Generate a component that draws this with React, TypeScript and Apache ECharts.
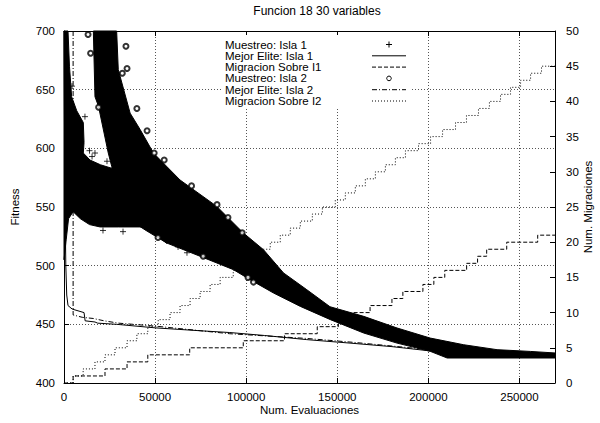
import React, { useEffect, useRef } from 'react';
import * as echarts from 'echarts';

// ---- data ----
const title = 'Funcion 18 30 variables';
const xName = 'Num. Evaluaciones';
const yName = 'Fitness';
const y2Name = 'Num. Migraciones';

const legendLabels = [
  'Muestreo: Isla 1',
  'Mejor Elite: Isla 1',
  'Migracion Sobre I1',
  'Muestreo: Isla 2',
  'Mejor Elite: Isla 2',
  'Migracion Sobre I2',
];

// outline of the dense "Muestreo: Isla 1" point cloud [evaluations, fitness]
const isla1Cloud: [number, number][] = [
  [0, 700], [2200, 700], [3000, 670], [4200, 644], [7000, 632], [10600, 622],
  [11000, 605], [10600, 596], [14300, 590], [20000, 586], [26200, 583],
  [40000, 575], [55000, 560], [56400, 519], [50000, 527], [47300, 533],
  [30000, 533], [19800, 533], [14000, 535], [9000, 540], [5000, 546],
  [2500, 540], [1200, 522], [0, 505],
];

// outline of the dense "Muestreo: Isla 2" point cloud
const isla2Cloud: [number, number][] = [
  [16100, 700], [28900, 700], [29800, 667], [36300, 630], [41800, 616],
  [49100, 596], [63700, 573], [83900, 550.5], [98500, 527.8], [109500, 513.6],
  [120500, 493.8], [133300, 479.5], [146000, 465], [164500, 456.8],
  [182800, 446.9], [201000, 438.3], [219400, 432.6], [237700, 428.4],
  [256000, 426.9], [269500, 425.6], [269500, 421.3], [210300, 421.3],
  [201000, 427], [182800, 434], [164500, 442.6], [146200, 454],
  [129700, 465.3], [115000, 476.7], [102200, 488], [93000, 496.6],
  [74700, 508], [56400, 519.3], [45000, 530], [30000, 545], [26200, 584.6],
  [24300, 596], [18900, 636], [17000, 644],
];

// isolated samples visible outside the clouds
const isla1Points: [number, number][] = [
  [4400, 653], [11500, 627], [15400, 593], [19800, 583], [23600, 589],
  [21400, 530], [32400, 529], [62600, 516], [67500, 511], [14000, 598],
  [17000, 596],
];
const isla2Points: [number, number][] = [
  [13200, 697], [14600, 681], [34000, 687], [32000, 664], [34600, 668],
  [40000, 634], [45600, 615], [49500, 596], [19000, 635], [51600, 524],
  [76400, 508], [84000, 552], [97800, 528], [101000, 490], [104000, 486],
  [90000, 541], [55000, 590], [70000, 568],
];

const eliteIsla1: [number, number][] = [
  [0, 700], [200, 640], [500, 560], [1000, 500], [1500, 475], [2200, 466],
  [4500, 463], [11000, 460], [11600, 453], [17000, 452], [18500, 451],
  [29000, 450], [50000, 447], [75000, 444.5], [91000, 443], [110000, 440.5],
  [133000, 437], [157000, 434], [180000, 431], [200000, 427.5],
  [215000, 425.5], [240000, 424], [269500, 423],
];

const eliteIsla2: [number, number][] = [
  [5000, 700], [5000, 458], [10000, 456], [16000, 455], [22000, 453],
  [30000, 451], [50000, 448.5], [91000, 442], [133000, 438], [160000, 434.5],
  [200000, 428.5], [230000, 425], [269500, 423.5],
];

// migrations (right axis), each point = [evaluation where count starts, count]
const migracionI1: [number, number][] = [
  [0, 0], [5000, 1], [22500, 2], [34600, 3], [46000, 4], [69000, 5],
  [98400, 6], [121000, 7], [139000, 8], [150600, 9], [158000, 10],
  [168000, 11], [180000, 12], [186000, 13], [197000, 14], [203000, 15],
  [209000, 16], [221000, 17], [227000, 18], [232000, 19], [243000, 20],
  [260000, 21], [269500, 21],
];

const migracionI2: [number, number][] = [
  [0, 0], [5000, 1], [10500, 2], [17000, 3], [22500, 4], [28000, 5],
  [34600, 6], [40000, 7], [46000, 8], [51700, 9], [58200, 10], [63700, 11],
  [69200, 12], [74700, 13], [80200, 14], [85700, 15], [92900, 16],
  [98300, 17], [102200, 18], [107700, 19], [113200, 20], [118700, 21],
  [124200, 22], [129700, 23], [136300, 24], [141800, 25], [148900, 26],
  [154400, 27], [159900, 28], [165400, 29], [170900, 30], [176400, 31],
  [181900, 32], [187400, 33], [194600, 34], [201200, 35], [207800, 36],
  [214900, 37], [220900, 38], [227500, 39], [233500, 40], [239600, 41],
  [245100, 42], [250600, 43], [256100, 44], [262100, 45], [269500, 45],
];

const X_MAX = 269500;
const FONT = 'Liberation Sans';
const FS = 11.5;

function cloud(points: [number, number][]) {
  return {
    type: 'custom',
    xAxisIndex: 0,
    yAxisIndex: 0,
    data: [[points[0][0], points[0][1]]],
    silent: true,
    z: 2,
    renderItem: (_p: any, api: any) => ({
      type: 'polygon',
      shape: { points: points.map((pt) => api.coord(pt)) },
      style: { fill: '#000', stroke: '#000', lineWidth: 1 },
    }),
  };
}

export default function App() {
  const ref = useRef<HTMLDivElement>(null);

  useEffect(() => {
    if (!ref.current) return;
    const chart = echarts.init(ref.current, null, { renderer: 'svg' });

    const lx1 = 372;
    const lx2 = 406;
    const rowY = (i: number) => 44.5 + i * 11.3;
    const legendGraphics: any[] = [
      { type: 'rect', z: 10, shape: { x: 222, y: 35, width: 188, height: 73 }, style: { fill: '#fff' } },
      ...legendLabels.map((t, i) => ({
        type: 'text',
        z: 11,
        x: 225,
        y: rowY(i),
        style: { text: t, fill: '#000', fontSize: FS, fontFamily: FONT, verticalAlign: 'middle', align: 'left' },
      })),
      { type: 'line', z: 11, shape: { x1: 386, y1: rowY(0), x2: 392, y2: rowY(0) }, style: { stroke: '#000', lineWidth: 1 } },
      { type: 'line', z: 11, shape: { x1: 389, y1: rowY(0) - 3, x2: 389, y2: rowY(0) + 3 }, style: { stroke: '#000', lineWidth: 1 } },
      { type: 'line', z: 11, shape: { x1: lx1, y1: rowY(1), x2: lx2, y2: rowY(1) }, style: { stroke: '#000', lineWidth: 1 } },
      { type: 'line', z: 11, shape: { x1: lx1, y1: rowY(2), x2: lx2, y2: rowY(2) }, style: { stroke: '#000', lineWidth: 1, lineDash: [4, 2] } },
      { type: 'circle', z: 11, shape: { cx: 389, cy: rowY(3), r: 2.3 }, style: { stroke: '#000', fill: 'none', lineWidth: 1 } },
      { type: 'line', z: 11, shape: { x1: lx1, y1: rowY(4), x2: lx2, y2: rowY(4) }, style: { stroke: '#000', lineWidth: 1, lineDash: [5, 2, 1, 2] } },
      { type: 'line', z: 11, shape: { x1: lx1, y1: rowY(5), x2: lx2, y2: rowY(5) }, style: { stroke: '#000', lineWidth: 1, lineDash: [1, 2] } },
    ];

    const gridLine = { show: true, lineStyle: { color: '#555', type: [1, 2], width: 1 } };
    const axisText = { color: '#000', fontSize: FS, fontFamily: FONT };

    chart.setOption({
      animation: false,
      backgroundColor: '#fff',
      title: {
        text: title,
        left: 312,
        textAlign: 'center',
        top: 0,
        textStyle: { fontSize: 12, fontWeight: 'normal', color: '#000', fontFamily: FONT },
      },
      grid: { left: 64, right: 45, top: 31, bottom: 40, containLabel: false, outerBoundsMode: 'none' },
      xAxis: [
        {
          type: 'value',
          min: 0,
          max: X_MAX,
          interval: 50000,
          position: 'bottom',
          name: xName,
          nameLocation: 'middle',
          nameGap: 21,
          nameMoveOverlap: false,
          nameTextStyle: axisText,
          axisLine: { show: true, onZero: false, lineStyle: { color: '#000', width: 1 } },
          axisTick: { show: true, inside: true, length: 5, lineStyle: { color: '#000' } },
          axisLabel: { ...axisText, margin: 8, showMaxLabel: false, formatter: (v: number) => (v % 50000 === 0 ? String(v) : '') },
          splitLine: gridLine,
        },
        {
          type: 'value',
          min: 0,
          max: X_MAX,
          interval: 50000,
          position: 'top',
          axisLine: { show: true, onZero: false, lineStyle: { color: '#000', width: 1 } },
          axisTick: { show: true, inside: true, length: 5, lineStyle: { color: '#000' } },
          axisLabel: { show: false },
          splitLine: { show: false },
        },
      ],
      yAxis: [
        {
          type: 'value',
          min: 400,
          max: 700,
          interval: 50,
          position: 'left',
          name: yName,
          nameLocation: 'middle',
          nameRotate: 90,
          nameGap: 43,
          nameMoveOverlap: false,
          nameTextStyle: axisText,
          axisLine: { show: true, onZero: false, lineStyle: { color: '#000', width: 1 } },
          axisTick: { show: true, inside: true, length: 5, lineStyle: { color: '#000' } },
          axisLabel: { ...axisText, margin: 9 },
          splitLine: gridLine,
        },
        {
          type: 'value',
          min: 0,
          max: 50,
          interval: 5,
          position: 'right',
          name: y2Name,
          nameLocation: 'middle',
          nameRotate: 90,
          nameGap: 27,
          nameMoveOverlap: false,
          nameTextStyle: axisText,
          axisLine: { show: true, onZero: false, lineStyle: { color: '#000', width: 1 } },
          axisTick: { show: true, inside: true, length: 5, lineStyle: { color: '#000' } },
          axisLabel: { ...axisText, margin: 11 },
          splitLine: { show: false },
        },
      ],
      graphic: legendGraphics,
      series: [
        cloud(isla1Cloud),
        cloud(isla2Cloud),
        {
          type: 'scatter',
          name: legendLabels[0],
          data: isla1Points,
          symbol: 'path://M0,5L10,5M5,0L5,10',
          symbolSize: 6,
          itemStyle: { color: 'none', borderColor: '#000', borderWidth: 1 },
          z: 3,
        },
        {
          type: 'scatter',
          name: legendLabels[3],
          data: isla2Points,
          symbol: 'emptyCircle',
          symbolSize: 5,
          itemStyle: { color: '#000', borderColor: '#000', borderWidth: 1 },
          z: 3,
        },
        {
          type: 'line',
          name: legendLabels[1],
          data: eliteIsla1,
          showSymbol: false,
          symbol: 'none',
          lineStyle: { color: '#000', width: 1 },
          z: 4,
        },
        {
          type: 'line',
          name: legendLabels[4],
          data: eliteIsla2,
          showSymbol: false,
          symbol: 'none',
          lineStyle: { color: '#000', width: 1, type: [5, 2, 1, 2] },
          z: 4,
        },
        {
          type: 'line',
          name: legendLabels[2],
          yAxisIndex: 1,
          data: migracionI1,
          step: 'end',
          showSymbol: false,
          symbol: 'none',
          lineStyle: { color: '#000', width: 1, type: [4, 2] },
          z: 4,
        },
        {
          type: 'line',
          name: legendLabels[5],
          yAxisIndex: 1,
          data: migracionI2,
          step: 'end',
          showSymbol: false,
          symbol: 'none',
          lineStyle: { color: '#000', width: 1, type: [1, 2] },
          z: 4,
        },
      ],
    });

    return () => chart.dispose();
  }, []);

  return (
    <div
      ref={ref}
      style={{ position: 'fixed', left: 0, top: 0, width: 600, height: 423, background: '#fff' }}
    />
  );
}
